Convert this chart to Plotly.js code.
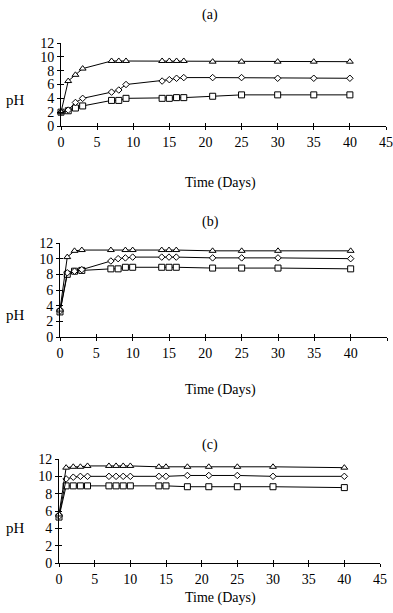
<!DOCTYPE html>
<html><head><meta charset="utf-8">
<script src="https://cdn.plot.ly/plotly-3.0.1.min.js"></script>
<style>html,body{margin:0;padding:0;background:#fff}#chart{width:393px;height:613px}</style>
</head><body><div id="chart"></div>
<script>
// Panel (a)
const aTriDays = [0,1,2,3,7,8,9,14,15,16,17,21,25,30,35,40];
const aTriPH   = [2.0,6.5,7.4,8.3,9.4,9.4,9.4,9.4,9.4,9.4,9.4,9.3,9.3,9.3,9.3,9.3];
const aDiaDays = [0,1,2,3,7,8,9,14,15,16,17,21,25,30,35,40];
const aDiaPH   = [2.0,2.3,3.4,4.0,4.9,5.2,6.0,6.5,6.7,6.9,7.0,7.0,7.0,6.9,6.9,6.9];
const aSqDays  = [0,1,2,3,7,8,9,14,15,16,17,21,25,30,35,40];
const aSqPH    = [2.0,2.2,2.6,2.9,3.7,3.7,4.0,4.0,4.0,4.1,4.1,4.3,4.5,4.5,4.5,4.5];
// Panel (b)
const bTriDays = [0,1,2,3,7,9,10,14,15,16,21,25,30,40];
const bTriPH   = [3.5,10.2,11.0,11.1,11.1,11.1,11.1,11.1,11.1,11.1,11.0,11.0,11.0,11.0];
const bDiaDays = [0,1,2,3,7,8,9,10,14,15,16,21,25,30,40];
const bDiaPH   = [3.3,8.2,8.4,8.6,9.7,10.0,10.1,10.2,10.2,10.2,10.2,10.1,10.1,10.1,10.0];
const bSqDays  = [0,1,2,3,7,8,9,10,14,15,16,21,25,30,40];
const bSqPH    = [3.2,8.0,8.4,8.5,8.7,8.7,8.9,8.9,8.9,8.9,8.9,8.8,8.8,8.8,8.7];
// Panel (c)
const cTriDays = [0,1,2,3,4,7,8,9,10,14,15,18,21,25,30,40];
const cTriPH   = [5.6,11.0,11.1,11.1,11.2,11.2,11.2,11.2,11.2,11.1,11.1,11.1,11.1,11.1,11.1,11.0];
const cDiaDays = [0,1,2,3,4,7,8,9,10,14,15,18,21,25,30,40];
const cDiaPH   = [5.4,9.7,9.9,10.0,10.0,10.0,10.0,10.0,10.0,10.0,10.0,10.1,10.1,10.1,10.0,10.0];
const cSqDays  = [0,1,2,3,4,7,8,9,10,14,15,18,21,25,30,40];
const cSqPH    = [5.3,8.9,8.9,8.9,8.9,8.9,8.9,8.9,8.9,8.9,8.9,8.8,8.8,8.8,8.8,8.7];

const panelLabels = ['(a)','(b)','(c)'];
const xTitle = 'Time (Days)';
const yTitle = 'pH';
const xTicks = [0,5,10,15,20,25,30,35,40,45];
const yTicks = [0,2,4,6,8,10,12];

const FONT = 'Liberation Serif, Times New Roman, serif';
function tr(x,y,sym,size,ax){
  return {x:x,y:y,type:'scatter',mode:'lines+markers',xaxis:'x'+ax,yaxis:'y'+ax,
    cliponaxis:false,showlegend:false,
    line:{color:'#000',width:1},
    marker:{symbol:sym,size:size,color:'#fff',line:{color:'#000',width:1}}};
}
const data = [
  tr(aSqDays,aSqPH,'square',6,''), tr(aDiaDays,aDiaPH,'diamond',5,''), tr(aTriDays,aTriPH,'triangle-up',6,''),
  tr(bSqDays,bSqPH,'square',6,'2'), tr(bDiaDays,bDiaPH,'diamond',5,'2'), tr(bTriDays,bTriPH,'triangle-up',6,'2'),
  tr(cSqDays,cSqPH,'square',6,'3'), tr(cDiaDays,cDiaPH,'diamond',5,'3'), tr(cTriDays,cTriPH,'triangle-up',6,'3')
];

const H=613, W=393;
const panels = [
  {x0:61,x1:386,yTop:43,yBot:126,title:15,xt:183,ph:100},
  {x0:60,x1:387,yTop:243,yBot:337,title:222,xt:390,ph:315},
  {x0:59,x1:380,yTop:459,yBot:563,title:445,xt:598,ph:528}
];
const layout = {width:W,height:H,margin:{l:0,r:0,t:0,b:0},paper_bgcolor:'#fff',plot_bgcolor:'rgba(0,0,0,0)',
  font:{family:FONT,size:14,color:'#000'},annotations:[]};
panels.forEach((p,i)=>{
  const s = i===0?'':String(i+1);
  const o = String(i+4);
  const xd=[p.x0/W,p.x1/W], yd=[1-p.yBot/H,1-p.yTop/H];
  layout['xaxis'+s] = {domain:xd,range:[0,45],tickvals:xTicks,
    anchor:'y'+s,showgrid:false,zeroline:false,showline:true,linecolor:'#000',linewidth:1,
    ticks:'outside',ticklen:3,tickcolor:'#000',tickfont:{family:FONT,size:14}};
  layout['yaxis'+s] = {domain:yd,range:[0,12],tickvals:yTicks,
    anchor:'x'+s,showgrid:false,zeroline:false,showline:true,linecolor:'#000',linewidth:1,
    ticks:'outside',ticklen:3,tickcolor:'#000',tickfont:{family:FONT,size:14}};
  // overlay axes for inside half of crossing ticks
  layout['xaxis'+o] = {domain:xd,range:[0,45],tickvals:xTicks,overlaying:'x'+s,anchor:'y'+o,
    showgrid:false,zeroline:false,showline:false,showticklabels:false,ticks:'inside',ticklen:3,tickcolor:'#000'};
  layout['yaxis'+o] = {domain:yd,range:[0,12],tickvals:yTicks,overlaying:'y'+s,anchor:'x'+o,
    showgrid:false,zeroline:false,showline:false,showticklabels:false,ticks:'inside',ticklen:3,tickcolor:'#000'};
  data.push({x:[],y:[],type:'scatter',xaxis:'x'+o,yaxis:'y'+o,showlegend:false});
  layout.annotations.push({text:panelLabels[i],xref:'paper',yref:'paper',x:210/W,y:1-p.title/H,xanchor:'center',yanchor:'middle',showarrow:false,font:{family:FONT,size:14}});
  layout.annotations.push({text:xTitle,xref:'paper',yref:'paper',x:220/W,y:1-p.xt/H,xanchor:'center',yanchor:'middle',showarrow:false,font:{family:FONT,size:14}});
  layout.annotations.push({text:yTitle,xref:'paper',yref:'paper',x:15/W,y:1-p.ph/H,xanchor:'center',yanchor:'middle',showarrow:false,font:{family:FONT,size:15}});
});
Plotly.newPlot('chart',data,layout,{displayModeBar:false,staticPlot:true});
</script></body></html>
